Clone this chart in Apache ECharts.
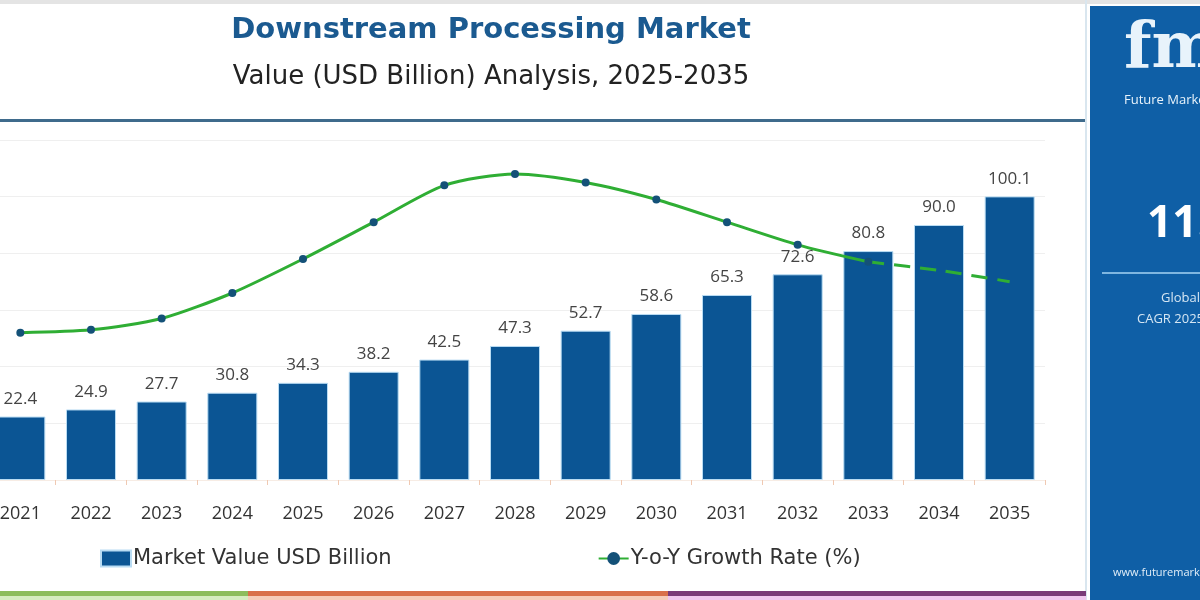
<!DOCTYPE html>
<html>
<head>
<meta charset="utf-8">
<script src="https://cdn.jsdelivr.net/npm/echarts@6/dist/echarts.min.js"></script>
<style>
  html, body { margin: 0; padding: 0; background: #fff; overflow: hidden; }
  /* chart is cropped on the left in the original, so shift the canvas */
  #main { width: 1215px; height: 600px; position: relative; left: -15px; }
</style>
</head>
<body>
<div id="main"></div>
<script>
var years = ['2021','2022','2023','2024','2025','2026','2027','2028','2029','2030','2031','2032','2033','2034','2035'];
var marketValue = [22.4, 24.9, 27.7, 30.8, 34.3, 38.2, 42.5, 47.3, 52.7, 58.6, 65.3, 72.6, 80.8, 90.0, 100.1];
// y-o-y growth (%) as drawn, solid part then dashed forecast tail
var growthSolid = [5.2, 5.3, 5.7, 6.6, 7.8, 9.1, 10.4, 10.8, 10.5, 9.9, 9.1, 8.3, 7.7, '-', '-'];
var growthDashed = ['-', '-', '-', '-', '-', '-', '-', '-', '-', '-', '-', '-', 7.7, 7.4, 7.0];

var font = '"Open Sans", "Noto Sans", sans-serif';
var wide = '"DejaVu Sans", sans-serif';
var dx = 15; // canvas offset
var chart = echarts.init(document.getElementById('main'));

chart.setOption({
  animation: false,
  backgroundColor: '#ffffff',
  title: [{
    text: 'Downstream Processing Market',
    left: 486 + dx, top: 11, textAlign: 'center',
    textStyle: { color: '#1b5a90', fontSize: 29, fontWeight: 'bold', fontFamily: wide }
  }, {
    text: 'Value (USD Billion) Analysis, 2025-2035',
    left: 486 + dx, top: 59, textAlign: 'center',
    textStyle: { color: '#222222', fontSize: 26, fontWeight: 'normal', fontFamily: wide }
  }],
  legend: {
    left: 95 + dx, top: 543,
    itemGap: 206, itemWidth: 30, itemHeight: 16,
    textStyle: { color: '#333', fontSize: 21, fontFamily: wide, padding: [0, 0, 0, -3] },
    data: [
      { name: 'Market Value USD Billion', icon: 'rect' },
      { name: 'Y-o-Y Growth Rate (%)' }
    ]
  },
  grid: { left: 0, right: 155, top: 140, bottom: 120 },
  xAxis: {
    type: 'category',
    data: years,
    axisLine: { show: true, lineStyle: { color: '#f7ece4' } },
    axisTick: { show: true, length: 5, lineStyle: { color: '#f0c9b2' } },
    axisLabel: { color: '#333', fontSize: 18, margin: 25, fontFamily: font }
  },
  yAxis: [{
    type: 'value', min: 0, max: 120, interval: 20,
    axisLabel: { show: false },
    axisLine: { show: false }, axisTick: { show: false },
    splitLine: { lineStyle: { color: '#efefef' } }
  }, {
    type: 'value', min: 0, max: 12, show: false,
    splitLine: { show: false }
  }],
  series: [{
    name: 'Market Value USD Billion',
    type: 'bar',
    data: marketValue,
    barWidth: 50,
    itemStyle: { color: '#0b5594', borderColor: '#b9dcf3', borderWidth: 1 },
    label: {
      show: true, position: 'top', distance: 9,
      color: '#444', fontSize: 17, fontFamily: font,
      formatter: function (p) { return p.value.toFixed(1); }
    }
  }, {
    name: 'Y-o-Y Growth Rate (%)',
    type: 'line',
    yAxisIndex: 1,
    data: growthSolid,
    smooth: 0.25,
    symbol: 'circle', symbolSize: 8,
    itemStyle: { color: '#145178' },
    lineStyle: { color: '#2fae34', width: 3 },
    z: 5
  }, {
    name: 'Y-o-Y Growth Rate (%)',
    type: 'line',
    yAxisIndex: 1,
    data: growthDashed,
    smooth: 0.25,
    showSymbol: false,
    itemStyle: { color: '#145178' },
    lineStyle: { color: '#2fae34', width: 3, type: [16, 10] },
    z: 5
  }],
  graphic: [
    { type: 'rect', shape: { x: 0, y: 0, width: 1215, height: 4 }, style: { fill: '#e4e4e4' }, z: 0 },
    { type: 'rect', shape: { x: dx, y: 119, width: 1086, height: 3 }, style: { fill: '#3f6b8c' } },
    { type: 'rect', shape: { x: 1085 + dx, y: 0, width: 2, height: 600 }, style: { fill: '#d9e6ef' } },
    // bottom colour strip
    { type: 'rect', shape: { x: 0, y: 591, width: 248 + dx, height: 5 }, style: { fill: '#8dbd5c' } },
    { type: 'rect', shape: { x: 0, y: 596, width: 248 + dx, height: 4 }, style: { fill: '#d6ecc0' } },
    { type: 'rect', shape: { x: 248 + dx, y: 591, width: 420, height: 5 }, style: { fill: '#d9704a' } },
    { type: 'rect', shape: { x: 248 + dx, y: 596, width: 420, height: 4 }, style: { fill: '#f6cbb8' } },
    { type: 'rect', shape: { x: 668 + dx, y: 591, width: 418, height: 5 }, style: { fill: '#7a3a78' } },
    { type: 'rect', shape: { x: 668 + dx, y: 596, width: 418, height: 4 }, style: { fill: '#f0c6ee' } },
    // right info panel
    { type: 'rect', shape: { x: 1090 + dx, y: 6, width: 110, height: 594 }, style: { fill: '#0f5fa6' } },
    { type: 'text', x: 1124 + dx, y: 18, style: { text: 'fmi', fill: '#e8f3fb', fontSize: 64, fontWeight: 'bold', fontFamily: '"DejaVu Serif", serif' } },
    { type: 'text', x: 1124 + dx, y: 94, style: { text: 'Future Market Insights', fill: '#e8f3fb', fontSize: 13, fontFamily: font } },
    { type: 'text', x: 1147 + dx, y: 202, style: { text: '11.3%', fill: '#ffffff', fontSize: 44, fontWeight: 'bold', fontFamily: font } },
    { type: 'rect', shape: { x: 1102 + dx, y: 272, width: 98, height: 2 }, style: { fill: '#7fb6e0' } },
    { type: 'text', x: 1161 + dx, y: 292, style: { text: 'Global', fill: '#d5e6f3', fontSize: 13, fontFamily: font } },
    { type: 'text', x: 1137 + dx, y: 313, style: { text: 'CAGR 2025-2035', fill: '#d5e6f3', fontSize: 13, fontFamily: font } },
    { type: 'text', x: 1113 + dx, y: 567, style: { text: 'www.futuremarketinsights.com', fill: '#e2eef8', fontSize: 11, fontFamily: font } }
  ]
});
</script>
</body>
</html>
